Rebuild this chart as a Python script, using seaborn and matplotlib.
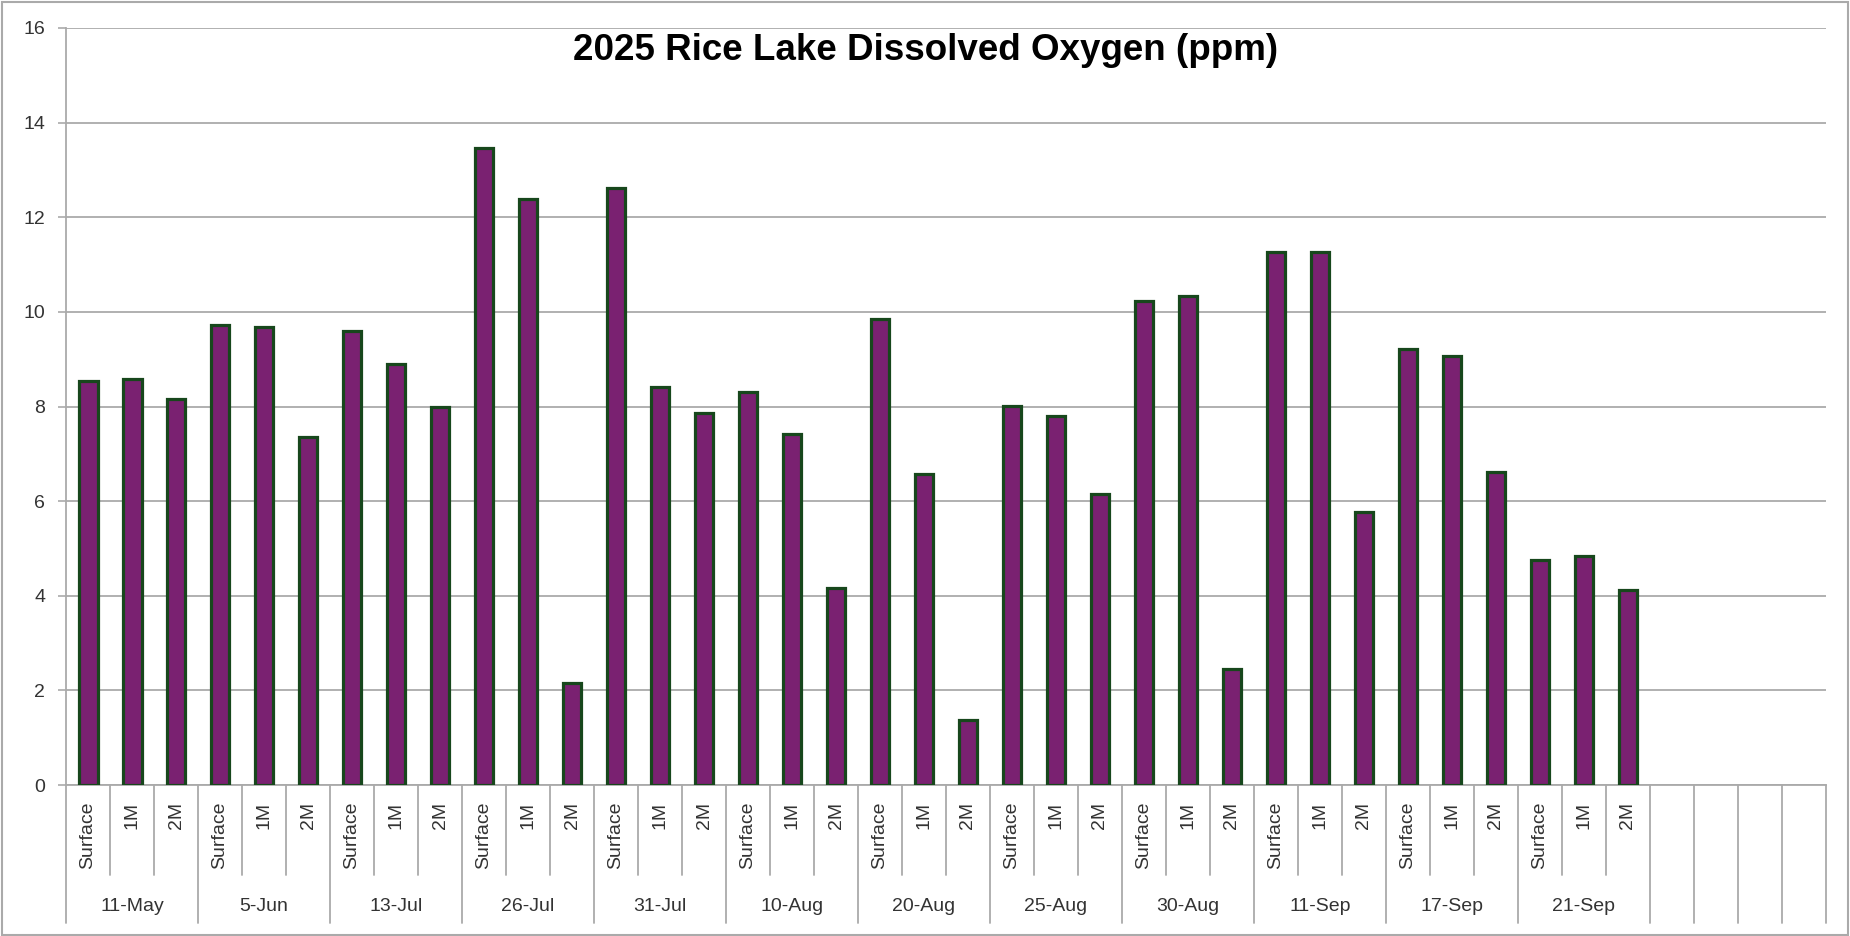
import matplotlib
matplotlib.use('Agg')
import matplotlib.pyplot as plt
from matplotlib import font_manager
from matplotlib.patches import Rectangle
import seaborn as sns
import pandas as pd

# Data
dates = ['11-May', '5-Jun', '13-Jul', '26-Jul', '31-Jul', '10-Aug',
         '20-Aug', '25-Aug', '30-Aug', '11-Sep', '17-Sep', '21-Sep']
depths = ['Surface', '1M', '2M']
oxygen = [8.54, 8.58, 8.16, 9.73, 9.69, 7.36, 9.60, 8.89, 7.99,
          13.46, 12.39, 2.15, 12.61, 8.42, 7.86, 8.30, 7.42, 4.16,
          9.84, 6.58, 1.37, 8.02, 7.80, 6.16, 10.22, 10.34, 2.46,
          11.27, 11.27, 5.77, 9.21, 9.07, 6.61, 4.75, 4.83, 4.12]
n_blank = 4  # empty category slots at the right end
y_ticks = [0, 2, 4, 6, 8, 10, 12, 14, 16]

sns.set_style('white')
names = {f.name for f in font_manager.fontManager.ttflist}
label_font = 'Liberation Sans Narrow' if 'Liberation Sans Narrow' in names else 'Liberation Sans'
plt.rcParams['font.family'] = [label_font, 'DejaVu Sans']

df = pd.DataFrame({
    'date': [d for d in dates for _ in depths],
    'depth': depths * len(dates),
    'value': oxygen,
})
df['pos'] = range(len(df))
n_slots = len(df) + n_blank

fig = plt.figure(figsize=(18.5, 9.36), dpi=100)
ax = fig.add_axes([0.0357, 0.1613, 0.9513, 0.8088])

sns.barplot(data=df, x='pos', y='value', native_scale=True, width=0.43,
            color='#7A2171', edgecolor='#17471C', linewidth=2.3,
            saturation=1, ax=ax, zorder=3)

ax.set_xlim(-0.5, n_slots - 0.5)
ax.set_ylim(0, 16)
ax.set_yticks(y_ticks)
ax.set_yticklabels([str(t) for t in y_ticks], fontsize=14, color='#333333')
ax.yaxis.grid(True, color='#AAAAAA', linewidth=1.3, zorder=0)
ax.set_axisbelow(True)
ax.tick_params(axis='y', length=6, width=1.2, color='#AAAAAA', pad=9, left=True)

ax.set_xticks(df['pos'])
ax.set_xticklabels(df['depth'], rotation=90, fontsize=14, color='#333333')
ax.tick_params(axis='x', length=0, pad=12)
ax.set_xlabel('')
ax.set_ylabel('')

for side in ['top', 'right']:
    ax.spines[side].set_visible(False)
for side in ['left', 'bottom']:
    ax.spines[side].set_color('#AAAAAA')
    ax.spines[side].set_linewidth(1.3)

# category separators below the axis
trans = ax.get_xaxis_transform()
for i in range(n_slots + 1):
    x = i - 0.5
    bottom = -0.182 if (i % 3 == 0 or i >= len(df)) else -0.119
    ax.plot([x, x], [0, bottom], transform=trans, color='#AAAAAA',
            linewidth=1.3, clip_on=False)

for g, d in enumerate(dates):
    ax.text(g * 3 + 1, -0.161, d, transform=trans, ha='center', va='center',
            fontsize=14, color='#333333')

fig.text(0.5005, 0.936, '2025 Rice Lake Dissolved Oxygen (ppm)', ha='center',
         va='baseline', fontsize=26.5, fontweight='bold', color='black',
         family=['Liberation Sans', 'DejaVu Sans'])

fig.patches.append(Rectangle((0.001, 0.001), 0.998, 0.997, transform=fig.transFigure,
                             fill=False, edgecolor='#AAAAAA', linewidth=1.5))

fig.savefig('out.png', dpi=100)
